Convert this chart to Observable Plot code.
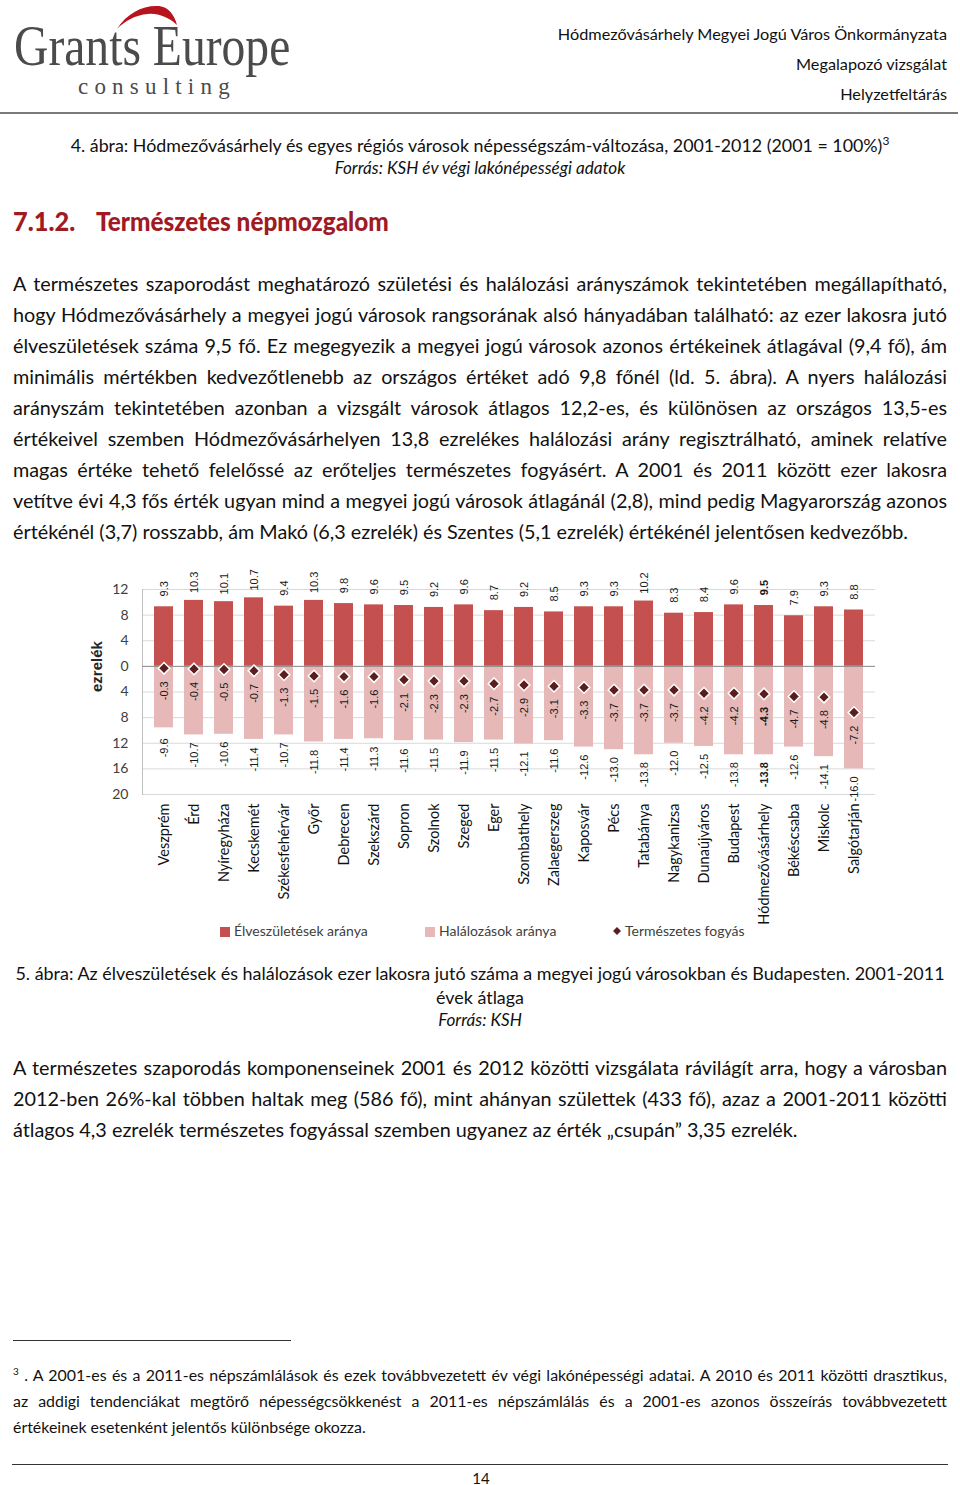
<!DOCTYPE html>
<html lang="hu">
<head>
<meta charset="utf-8">
<script src="https://cdn.jsdelivr.net/npm/d3@7"></script>
<script src="https://cdn.jsdelivr.net/npm/@observablehq/plot@0.6"></script>
<style>
  html, body { margin: 0; padding: 0; background: #fff; }
  body { width: 960px; height: 1485px; position: relative; font-family: Lato, "Open Sans", sans-serif; color: #111; overflow: hidden; }
  .abs { position: absolute; }
  .hdr { right: 13px; font-size: 16.2px; line-height: 30px; text-align: right; color: #111; white-space: nowrap; }
  .center { left: 0; width: 960px; text-align: center; white-space: nowrap; }
  .cap { font-size: 17.5px; line-height: 24px; }
  .src { font-size: 16px; line-height: 22px; font-style: italic; }
  .para { left: 13px; width: 934px; font-size: 20px; line-height: 31px; }
  .para div { text-align: justify; text-align-last: justify; white-space: nowrap; }
  .para div.last { text-align: left; text-align-last: left; }
  .foot { left: 13px; width: 934px; font-size: 16px; line-height: 26px; }
  .foot div { text-align: justify; text-align-last: justify; white-space: nowrap; }
  .foot div.last { text-align: left; text-align-last: left; }
  #chart { position: absolute; left: 0; top: 565px; }
  .legend { top: 922px; left: 0; width: 960px; height: 18px; font-size: 14px; color: #404040; }
  .legend span.item { position: absolute; top: 0; line-height: 18px; white-space: nowrap; }
  .sw { display: inline-block; width: 10px; height: 10px; margin-right: 4px; vertical-align: -1px; }
  .h2 { top: 203px; font-weight: 900; font-size: 27px; line-height: 36px; color: #a01a24; white-space: nowrap; transform-origin: 0 0; }
</style>
</head>
<body>
<!-- Header -->
<svg class="abs" style="left:0;top:0" width="300" height="110">
  <path d="M117,29 C127,13 143,5 159,6 C168,7 174,14 177,25 C168,17 158,13 148,14 C135,15 125,21 117,29 Z" fill="#b8141d"/>
</svg>
<div class="abs" style="left:14px;top:18px;font-family:'Liberation Serif',serif;font-size:56px;line-height:56px;color:#4b4b4b;transform:scaleX(0.85);transform-origin:0 0;white-space:nowrap;">Grants Europe</div>
<div class="abs" style="left:78px;top:75px;font-family:'Liberation Serif',serif;font-size:23px;line-height:24px;color:#4b4b4b;letter-spacing:6.2px;white-space:nowrap;">consulting</div>
<div class="abs hdr" style="top:19px;"><span id="hdr1">Hódmezővásárhely Megyei Jogú Város Önkormányzata</span></div>
<div class="abs hdr" style="top:49px;">Megalapozó vizsgálat</div>
<div class="abs hdr" style="top:79px;">Helyzetfeltárás</div>
<div class="abs" style="left:0;top:112px;width:958px;height:2px;background:#7a7a7a;"></div>

<div class="abs center cap" id="cap4" style="top:133px;"><span id="cap4s">4. ábra: Hódmezővásárhely és egyes régiós városok népességszám-változása, 2001-2012 (2001 = 100%)<sup style="font-size:12px;line-height:0;vertical-align:7px;">3</sup></span></div>
<div class="abs center src" id="src4" style="top:157px;"><span id="src4s">Forrás: KSH év végi lakónépességi adatok</span></div>

<div class="abs h2" id="h2a" style="left:13px;">7.1.2.</div>
<div class="abs h2" id="h2b" style="left:96px;">Természetes népmozgalom</div>

<div class="abs para" id="p1" style="top:267.5px;">
<div>A természetes szaporodást meghatározó születési és halálozási arányszámok tekintetében megállapítható,</div>
<div>hogy Hódmezővásárhely a megyei jogú városok rangsorának alsó hányadában található: az ezer lakosra jutó</div>
<div>élveszületések száma 9,5 fő. Ez megegyezik a megyei jogú városok azonos értékeinek átlagával (9,4 fő), ám</div>
<div>minimális mértékben kedvezőtlenebb az országos értéket adó 9,8 főnél (ld. 5. ábra). A nyers halálozási</div>
<div>arányszám tekintetében azonban a vizsgált városok átlagos 12,2-es, és különösen az országos 13,5-es</div>
<div>értékeivel szemben Hódmezővásárhelyen 13,8 ezrelékes halálozási arány regisztrálható, aminek relatíve</div>
<div>magas értéke tehető felelőssé az erőteljes természetes fogyásért. A 2001 és 2011 között ezer lakosra</div>
<div>vetítve évi 4,3 fős érték ugyan mind a megyei jogú városok átlagánál (2,8), mind pedig Magyarország azonos</div>
<div class="last">értékénél (3,7) rosszabb, ám Makó (6,3 ezrelék) és Szentes (5,1 ezrelék) értékénél jelentősen kedvezőbb.</div>
</div>

<div id="chart"></div>
<div class="abs legend" id="legend">
  <span class="item" style="left:220px;"><span class="sw" style="background:#c4514f;"></span>Élveszületések aránya</span>
  <span class="item" style="left:425px;"><span class="sw" style="background:#e6b9b8;"></span>Halálozások aránya</span>
  <span class="item" style="left:611px;"><svg width="12" height="12" style="vertical-align:-1px;margin-right:2px;"><path d="M6,2 L10,6 L6,10 L2,6 Z" fill="#5a1e1e"/></svg>Természetes fogyás</span>
</div>

<div class="abs center cap" id="cap5" style="top:961px;"><span id="cap5s">5. ábra: Az élveszületések és halálozások ezer lakosra jutó száma a megyei jogú városokban és Budapesten. 2001-2011</span></div>
<div class="abs center cap" id="cap5b" style="top:985px;">évek átlaga</div>
<div class="abs center src" id="src5" style="top:1009px;">Forrás: KSH</div>

<div class="abs para" id="p2" style="top:1051.5px;">
<div>A természetes szaporodás komponenseinek 2001 és 2012 közötti vizsgálata rávilágít arra, hogy a városban</div>
<div>2012-ben 26%-kal többen haltak meg (586 fő), mint ahányan születtek (433 fő), azaz a 2001-2011 közötti</div>
<div class="last">átlagos 4,3 ezrelék természetes fogyással szemben ugyanez az érték „csupán” 3,35 ezrelék.</div>
</div>

<div class="abs" style="left:13px;top:1340px;width:278px;height:1px;background:#333;"></div>
<div class="abs foot" id="fn" style="top:1362px;">
<div><sup style="font-size:10px;line-height:0;vertical-align:6px;">3</sup> . A 2001-es és a 2011-es népszámlálások és ezek továbbvezetett év végi lakónépességi adatai. A 2010 és 2011 közötti drasztikus,</div>
<div>az addigi tendenciákat megtörő népességcsökkenést a 2011-es népszámlálás és a 2001-es azonos összeírás továbbvezetett</div>
<div class="last">értékeinek esetenként jelentős különbsége okozza.</div>
</div>
<div class="abs" style="left:12px;top:1464px;width:936px;height:1px;background:#333;"></div>
<div class="abs" style="left:461px;top:1468px;width:40px;text-align:center;font-size:15px;line-height:20px;">14</div>

<script>
const cities = ["Veszprém","Érd","Nyíregyháza","Kecskemét","Székesfehérvár","Győr","Debrecen","Szekszárd","Sopron","Szolnok","Szeged","Eger","Szombathely","Zalaegerszeg","Kaposvár","Pécs","Tatabánya","Nagykanizsa","Dunaújváros","Budapest","Hódmezővásárhely","Békéscsaba","Miskolc","Salgótarján"];
const births = [9.3,10.3,10.1,10.7,9.4,10.3,9.8,9.6,9.5,9.2,9.6,8.7,9.2,8.5,9.3,9.3,10.2,8.3,8.4,9.6,9.5,7.9,9.3,8.8];
const deaths = [9.6,10.7,10.6,11.4,10.7,11.8,11.4,11.3,11.6,11.5,11.9,11.5,12.1,11.6,12.6,13.0,13.8,12.0,12.5,13.8,13.8,12.6,14.1,16.0];
const naturalDecrease = [-0.3,-0.4,-0.5,-0.7,-1.3,-1.5,-1.6,-1.6,-2.1,-2.3,-2.3,-2.7,-2.9,-3.1,-3.3,-3.7,-3.7,-3.7,-4.2,-4.2,-4.3,-4.7,-4.8,-7.2];
const yTicks = [12,8,4,0,-4,-8,-12,-16,-20];
const yLabel = "ezrelék";
const highlight = "Hódmezővásárhely";

// --- fit page copy to the reference's text widths ---
function naturalWidth(el) {
  const s = document.createElement("span");
  s.style.whiteSpace = "nowrap";
  while (el.firstChild) s.appendChild(el.firstChild);
  el.appendChild(s);
  const w = s.getBoundingClientRect().width;
  while (s.firstChild) el.appendChild(s.firstChild);
  el.removeChild(s);
  return w;
}
function fitPara(id, lastTarget, maxWidth) {
  const el = document.getElementById(id);
  const fs = parseFloat(getComputedStyle(el).fontSize);
  const lines = Array.from(el.children);
  const lastW = naturalWidth(lines[lines.length - 1]);
  let maxW = 0;
  lines.forEach(l => { maxW = Math.max(maxW, naturalWidth(l)); });
  const k = Math.min(lastTarget / lastW, maxWidth / maxW);
  el.style.fontSize = (fs * k).toFixed(2) + "px";
}
fitPara("p1", 905, 930);
fitPara("p2", 785, 930);
fitPara("fn", 361, 930);
function fitLine(id, target) {
  const el = document.getElementById(id);
  const fs = parseFloat(getComputedStyle(el).fontSize);
  const w = naturalWidth(el);
  el.style.fontSize = (fs * target / w).toFixed(2) + "px";
}
fitLine("cap4", 819);
fitLine("src4", 291);
fitLine("cap5", 930);
document.getElementById("cap5b").style.fontSize = document.getElementById("cap5").style.fontSize;
document.getElementById("src5").style.fontSize = document.getElementById("src4").style.fontSize;
(function(){ const w = document.getElementById("hdr1").getBoundingClientRect().width; if (w > 0) document.querySelectorAll(".hdr").forEach(el => el.style.fontSize = (16.2*389/w).toFixed(2)+"px"); })();
function squeeze(id, target) {
  const el = document.getElementById(id);
  const w = el.offsetWidth;
  if (w > 0) el.style.transform = "scaleX(" + (target / w).toFixed(3) + ")";
}
squeeze("h2a", 62);
squeeze("h2b", 293);

// --- chart ---
const rows = cities.map((c, i) => ({city: c, births: births[i], deaths: -deaths[i], nd: naturalDecrease[i], hl: c === highlight}));
const normal = rows.filter(d => !d.hl);
const bold = rows.filter(d => d.hl);

const labelFont = "'Liberation Sans', Arial, sans-serif";
function labelMarks(data, weight) {
  return [
    Plot.text(data, {x: "city", y: "births", text: d => d.births.toFixed(1), rotate: -90, textAnchor: "middle", dy: -18, fontSize: 11, fontFamily: labelFont, fontWeight: weight, fill: "#1a1a1a"}),
    Plot.text(data, {x: "city", y: "deaths", text: d => d.deaths.toFixed(1), rotate: -90, textAnchor: "middle", dy: 20, fontSize: 11, fontFamily: labelFont, fontWeight: weight, fill: "#1a1a1a"}),
    Plot.text(data, {x: "city", y: "nd", text: d => d.nd.toFixed(1), rotate: -90, textAnchor: "end", dy: 13, fontSize: 11, fontFamily: labelFont, fontWeight: weight, fill: "#1a1a1a"})
  ];
}

const chart = Plot.plot({
  width: 960,
  height: 372,
  marginLeft: 142,
  marginRight: 85,
  marginTop: 24,
  marginBottom: 143,
  style: {fontFamily: "Lato, sans-serif", fontSize: "14px", color: "#404040", background: "transparent"},
  x: {domain: cities, paddingInner: 0.36, paddingOuter: 0.18, align: 0.5, label: null},
  y: {domain: [-20, 12], label: null},
  marks: [
    Plot.gridY(yTicks, {stroke: "#d9d9d9", strokeOpacity: 1}),
    Plot.frame({anchor: "left", stroke: "#bfbfbf"}),
    Plot.barY(rows, {x: "city", y: "births", fill: "#c4514f"}),
    Plot.barY(rows, {x: "city", y: "deaths", fill: "#e6b9b8"}),
    Plot.ruleY([0], {stroke: "#8c8c8c", strokeWidth: 1}),
    Plot.dot(rows, {x: "city", y: "nd", symbol: "diamond2", r: 5.2, fill: "#5a1e1e", stroke: "#fff", strokeWidth: 1.5}),
    ...labelMarks(normal, "normal"),
    ...labelMarks(bold, "bold"),
    Plot.axisY({ticks: yTicks, tickFormat: d => Math.abs(d), tickSize: 0, tickPadding: 14, fontSize: 14, label: null}),
    Plot.text([yLabel], {frameAnchor: "left", dx: -45, rotate: -90, text: d => d, fontWeight: "bold", fontSize: 15, fontFamily: labelFont, fill: "#262626"}),
    Plot.axisX({anchor: "bottom", tickRotate: -90, tickSize: 0, tickPadding: 9, fontSize: 14.5, label: null, fill: "#111"})
  ]
});
document.getElementById("chart").appendChild(chart);
</script>
</body>
</html>
